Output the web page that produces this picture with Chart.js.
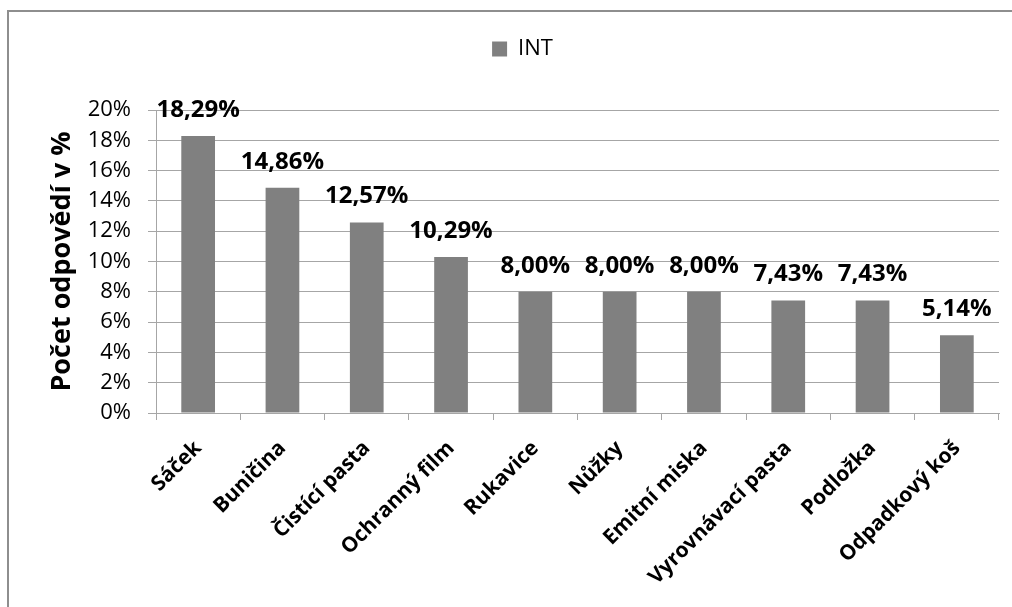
<!DOCTYPE html>
<html lang="cs">
<head>
<meta charset="utf-8">
<title>Počet odpovědí v %</title>
<script src="https://cdn.jsdelivr.net/npm/chart.js@4/dist/chart.umd.min.js"></script>
<style>
  html, body { margin: 0; padding: 0; background: #ffffff; overflow: hidden; }
  #wrap { position: relative; width: 1012px; height: 607px; }
  #frame {
    position: absolute; left: 7px; top: 10px; width: 1100px; height: 700px;
    border-left: 2px solid #8e8e8e; border-top: 2px solid #8e8e8e; box-sizing: border-box;
    pointer-events: none;
  }
  canvas { position: absolute; left: 0; top: 0; }
</style>
</head>
<body>
<div id="wrap">
  <canvas id="chart" width="1012" height="607"></canvas>
  <div id="frame"></div>
</div>
<script>
// Categories and shares of responses (%)
const categories = [
  'Sáček', 'Buničina', 'Čistící pasta', 'Ochranný film', 'Rukavice',
  'Nůžky', 'Emitní miska', 'Vyrovnávací pasta', 'Podložka', 'Odpadkový koš'
];
const seriesName = 'INT';
const intValues = [18.29, 14.86, 12.57, 10.29, 8.00, 8.00, 8.00, 7.43, 7.43, 5.14];
const yTicks = [0, 2, 4, 6, 8, 10, 12, 14, 16, 18, 20];

const FONT = "'Open Sans', 'DejaVu Sans', sans-serif";
const fmtPct = v => v.toFixed(2).replace('.', ',') + '%';

// Value labels above each bar
const valueLabels = {
  id: 'valueLabels',
  afterDatasetsDraw(chart) {
    const ctx = chart.ctx;
    const meta = chart.getDatasetMeta(0);
    const data = chart.data.datasets[0].data;
    ctx.save();
    ctx.font = "bold 24px " + FONT;
    ctx.fillStyle = '#000000';
    ctx.textAlign = 'center';
    ctx.textBaseline = 'middle';
    meta.data.forEach((bar, i) => {
      ctx.fillText(fmtPct(data[i]), bar.x, bar.y - 26);
    });
    ctx.restore();
  }
};

// Extra room between the legend and the plot area
const legendGap = {
  id: 'legendGap',
  beforeLayout(chart) {
    const legend = chart.legend;
    if (legend && !legend._gapPatched) {
      const fit = legend.fit;
      legend.fit = function () {
        fit.call(this);
        this.height += 40;
      };
      legend._gapPatched = true;
    }
  }
};

new Chart(document.getElementById('chart'), {
  type: 'bar',
  data: {
    labels: categories,
    datasets: [{
      label: seriesName,
      data: intValues,
      backgroundColor: '#808080',
      borderWidth: 0,
      barPercentage: 0.4,
      categoryPercentage: 1.0
    }]
  },
  options: {
    responsive: false,
    animation: false,
    devicePixelRatio: 1,
    layout: { padding: { left: 46, right: 13, top: 28, bottom: 0 } },
    plugins: {
      legend: {
        display: true,
        position: 'top',
        labels: {
          font: { family: FONT, size: 22 },
          color: '#000000',
          boxWidth: 15,
          boxHeight: 15,
          padding: 10,
          useBorderRadius: false
        }
      },
      tooltip: { enabled: false }
    },
    scales: {
      x: {
        offset: true,
        grid: {
          display: true,
          offset: true,
          drawOnChartArea: false,
          drawTicks: true,
          tickLength: 7,
          color: '#a6a6a6'
        },
        border: { display: true, color: '#a6a6a6', width: 1 },
        ticks: {
          autoSkip: false,
          maxRotation: 45,
          minRotation: 45,
          padding: 16,
          color: '#000000',
          font: { family: FONT, size: 21, weight: 'bold' }
        },
        afterFit(scale) { scale.height = 194; }
      },
      y: {
        min: 0,
        max: 20,
        afterBuildTicks(scale) { scale.ticks = yTicks.map(v => ({ value: v })); },
        grid: {
          color: '#a6a6a6',
          drawTicks: true,
          tickLength: 8
        },
        border: { display: true, color: '#a6a6a6', width: 1 },
        ticks: {
          autoSkip: false,
          padding: 17,
          color: '#000000',
          font: { family: FONT, size: 22 },
          callback: v => v + '%'
        },
        title: {
          display: true,
          text: 'Počet odpovědí v %',
          color: '#000000',
          font: { family: FONT, size: 27, weight: 'bold' },
          padding: { top: 0, bottom: 0 }
        },
        afterFit(scale) { scale.width = 110; }
      }
    }
  },
  plugins: [valueLabels, legendGap]
});
</script>
</body>
</html>
